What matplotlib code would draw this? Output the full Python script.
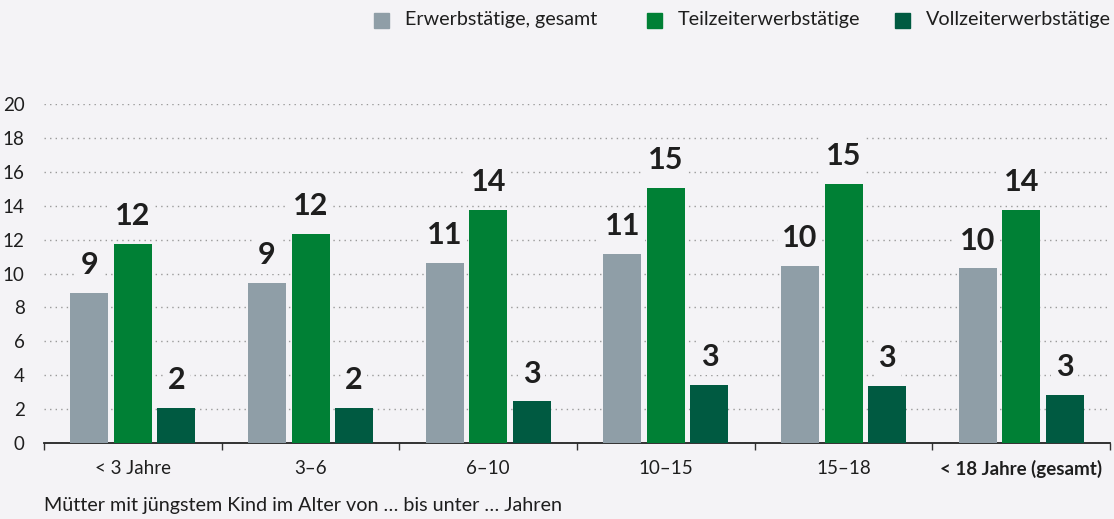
import matplotlib.pyplot as plt
import numpy as np

# Data
groups = ["< 3 Jahre", "3\u20136", "6\u201310", "10\u201315", "15\u201318", "< 18 Jahre (gesamt)"]
series_names = ["Erwerbstätige, gesamt", "Teilzeiterwerbstätige", "Vollzeiterwerbstätige"]
gesamt = [8.85, 9.45, 10.6, 11.15, 10.45, 10.3]
teilzeit = [11.75, 12.35, 13.75, 15.05, 15.3, 13.75]
vollzeit = [2.05, 2.05, 2.45, 3.45, 3.35, 2.85]
labels_gesamt = ["9", "9", "11", "11", "10", "10"]
labels_teilzeit = ["12", "12", "14", "15", "15", "14"]
labels_vollzeit = ["2", "2", "3", "3", "3", "3"]

colors = ["#8f9ea7", "#008035", "#005a41"]
bg = "#f4f3f6"
txt = "#1e1e1e"

plt.rcParams['font.family'] = ['Lato', 'DejaVu Sans']

fig = plt.figure(figsize=(11.14, 5.19), dpi=100, facecolor=bg)
ax = fig.add_axes([0.0395, 0.1464, 0.957, 0.6532], facecolor=bg)

x = np.arange(len(groups))
w = 0.214
step = 0.245
all_vals = [gesamt, teilzeit, vollzeit]
all_labels = [labels_gesamt, labels_teilzeit, labels_vollzeit]

for i, (vals, labs) in enumerate(zip(all_vals, all_labels)):
    pos = x + (i - 1) * step
    ax.bar(pos, vals, width=w, color=colors[i], zorder=3)
    for px, v, lab in zip(pos, vals, labs):
        ax.annotate(lab, (px, v), xytext=(0, 10), textcoords="offset points",
                    ha="center", va="bottom", fontsize=22, fontweight="bold", color=txt,
                    zorder=4,
                    bbox=dict(boxstyle="square,pad=0.15", fc=bg, ec="none"))

ax.set_xlim(-0.5, len(groups) - 0.5)
ax.set_ylim(0, 20)
ax.set_yticks(range(0, 21, 2))
ax.yaxis.grid(True, linestyle=(0, (1, 3)), color="#9a9a9a", linewidth=1, zorder=0)
ax.tick_params(axis="y", length=0, pad=14, labelsize=13.5, labelcolor=txt)

ax.set_xticks(x)
ax.set_xticklabels(groups, fontsize=13.5, color=txt)
ax.get_xticklabels()[-1].set_fontweight("bold")
ax.set_xticks(np.arange(-0.5, len(groups), 1), minor=True)
ax.tick_params(axis="x", which="major", length=0, pad=12)
ax.tick_params(axis="x", which="minor", length=5, width=1, color="#333333")

for s in ["left", "right", "top"]:
    ax.spines[s].set_visible(False)
ax.spines["bottom"].set_color("#222222")
ax.spines["bottom"].set_linewidth(1.3)

fig.text(0.0395, 1 - 506 / 519, "Mütter mit jüngstem Kind im Alter von … bis unter … Jahren",
         fontsize=14.2, color=txt, ha="left", va="center")

# Legend at the top right
leg_x = [374 / 1114, 647 / 1114, 895 / 1114]
for lx, c, name in zip(leg_x, colors, series_names):
    fig.patches.append(plt.Rectangle((lx, 1 - 28 / 519), 15 / 1114, 15 / 519,
                                     transform=fig.transFigure, color=c, figure=fig))
    fig.text(lx + 31 / 1114, 1 - 20 / 519, name, fontsize=14.2, color=txt,
             ha="left", va="center")

fig.savefig("out.png", dpi=100, facecolor=bg)
